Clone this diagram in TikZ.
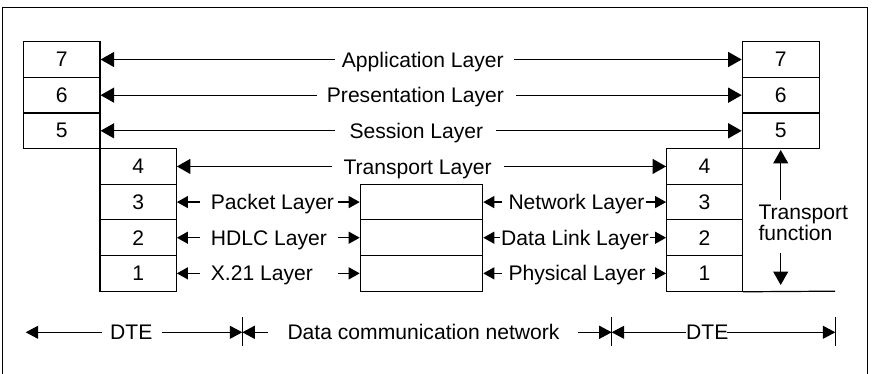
\documentclass[tikz,border=0pt]{standalone}
\usepackage{fontspec}
\setmainfont{Liberation Sans}
\usetikzlibrary{arrows.meta}
\begin{document}
\begin{tikzpicture}[x=1pt,y=-1pt,
  every node/.style={font=\fontsize{21.1}{21.1}\selectfont},
  box/.style={draw, rectangle, inner sep=0pt, minimum height=35.64pt, line width=1.2pt},
  ln/.style={line width=1.2pt},
  lbl/.style={anchor=base west, inner sep=0pt},
  bigL/.style={ln, {Triangle[length=13.5pt,width=15pt]}-},
  bigR/.style={ln, -{Triangle[length=13.5pt,width=15pt]}},
  smL/.style={ln, {Triangle[length=11pt,width=12pt]}-},
  smR/.style={ln, -{Triangle[length=11pt,width=12pt]}},
  dteL/.style={ln, {Triangle[length=12.5pt,width=13pt]}-},
  dteR/.style={ln, -{Triangle[length=12.5pt,width=13pt]}}
]
\useasboundingbox (0,0) rectangle (873,374);
% frame
\draw[ln] (2.7,374) -- (2.7,7.3) -- (867.7,7.3) -- (867.7,374);

% left stacks
\node[box, minimum width=76.7pt] (L7) at (61.65,59.52) {7};
\node[box, minimum width=76.7pt] (L6) at (61.65,95.16) {6};
\node[box, minimum width=76.7pt] (L5) at (61.65,130.8) {5};
\node[box, minimum width=76.3pt] (L4) at (138.15,166.44) {4};
\node[box, minimum width=76.3pt] (L3) at (138.15,202.08) {3};
\node[box, minimum width=76.3pt] (L2) at (138.15,237.72) {2};
\node[box, minimum width=76.3pt] (L1) at (138.15,273.36) {1};
% middle
\node[box, minimum width=122.4pt] (M3) at (421.5,202.08) {};
\node[box, minimum width=122.4pt] (M2) at (421.5,237.72) {};
\node[box, minimum width=122.4pt] (M1) at (421.5,273.36) {};
% right stacks
\node[box, minimum width=75.6pt] (R4) at (704.5,166.44) {4};
\node[box, minimum width=75.6pt] (R3) at (704.5,202.08) {3};
\node[box, minimum width=75.6pt] (R2) at (704.5,237.72) {2};
\node[box, minimum width=75.6pt] (R1) at (704.5,273.36) {1};
\node[box, minimum width=77pt] (R7) at (780.8,59.52) {7};
\node[box, minimum width=77pt] (R6) at (780.8,95.16) {6};
\node[box, minimum width=77pt] (R5) at (780.8,130.8) {5};
\coordinate (bx) at (835,291.18);
\draw[ln] (R1.south east) -- (bx);

% upper layers
\node[lbl] (t7) at (341.7,67.1) {Application Layer};
\coordinate (a7l) at (335,59.52); \coordinate (a7r) at (514.3,59.52);
\draw[bigL] (L7.east) -- (a7l); \draw[bigR] (a7r) -- (R7.west);

\node[lbl] (t6) at (326.7,102.76) {Presentation Layer};
\coordinate (a6l) at (317.3,95.16); \coordinate (a6r) at (516,95.16);
\draw[bigL] (L6.east) -- (a6l); \draw[bigR] (a6r) -- (R6.west);

\node[lbl] (t5) at (349.3,138.4) {Session Layer};
\coordinate (a5l) at (335,130.8); \coordinate (a5r) at (496,130.8);
\draw[bigL] (L5.east) -- (a5l); \draw[bigR] (a5r) -- (R5.west);

\node[lbl] (t4) at (343.3,174.04) {Transport Layer};
\coordinate (a4l) at (331.7,166.44); \coordinate (a4r) at (504,166.44);
\draw[bigL] (L4.east) -- (a4l); \draw[bigR] (a4r) -- (R4.west);

% left lower layers
\node[lbl] (p3) at (210.7,209.68) {Packet Layer};
\coordinate (p3l) at (200,202.08); \coordinate (p3r) at (338.3,202.08);
\draw[smL] (L3.east) -- (p3l); \draw[smR] (p3r) -- (M3.west);

\node[lbl] (p2) at (210.7,245.32) {HDLC Layer};
\coordinate (p2l) at (200,237.72); \coordinate (p2r) at (338.3,237.72);
\draw[smL] (L2.east) -- (p2l); \draw[smR] (p2r) -- (M2.west);

\node[lbl] (p1) at (210.7,280.96) {X.21 Layer};
\coordinate (p1l) at (200,273.36); \coordinate (p1r) at (338.3,273.36);
\draw[smL] (L1.east) -- (p1l); \draw[smR] (p1r) -- (M1.west);

% right lower layers
\node[lbl] (n3) at (508.3,209.68) {Network Layer};
\coordinate (n3l) at (502.3,202.08); \coordinate (n3r) at (645.7,202.08);
\draw[smL] (M3.east) -- (n3l); \draw[smR] (n3r) -- (R3.west);

\node[lbl] (n2) at (501,245.32) {Data Link Layer};
\coordinate (n2l) at (500,237.72); \coordinate (n2r) at (650,237.72);
\draw[smL] (M2.east) -- (n2l); \draw[smR] (n2r) -- (R2.west);

\node[lbl] (n1) at (508.3,280.96) {Physical Layer};
\coordinate (n1l) at (502,273.36); \coordinate (n1r) at (651.7,273.36);
\draw[smL] (M1.east) -- (n1l); \draw[smR] (n1r) -- (R1.west);

% transport function
\node[anchor=north west, align=left, inner sep=0pt, font=\fontsize{21.1}{20.5}\selectfont] (tf) at (758.3,205) {Transport\\function};
\coordinate (tfu0) at (780.7,200); \coordinate (tfu1) at (780.7,150);
\coordinate (tfd0) at (780.7,253.3); \coordinate (tfd1) at (780.7,285);
\draw[bigR] (tfu0) -- (tfu1);
\draw[bigR] (tfd0) -- (tfd1);

% bottom extents
\node[lbl] (dte1) at (110,339.9) {DTE};
\node[lbl] (dcn) at (287.3,339.9) {Data communication network};
\node[lbl] (dte2) at (686,339.9) {DTE};
\coordinate (e0) at (25.7,332.3);
\coordinate (e1) at (101.7,332.3);
\coordinate (e2) at (161.7,332.3);
\coordinate (k1) at (242.3,332.3);
\coordinate (e3) at (268.3,332.3);
\coordinate (e4) at (578.3,332.3);
\coordinate (k2) at (611.7,332.3);
\coordinate (e5) at (686,332.3);
\coordinate (e6) at (726.7,332.3);
\coordinate (k3) at (835.3,332.3);
\draw[dteL] (e0) -- (e1);
\draw[dteR] (e2) -- (k1);
\draw[dteL] (k1) -- (e3);
\draw[dteR] (e4) -- (k2);
\draw[dteL] (k2) -- (e5);
\draw[dteR] (e6) -- (k3);
\draw[ln] ([yshift=-14pt]k1) -- ([yshift=15.4pt]k1);
\draw[ln] ([yshift=-14pt]k2) -- ([yshift=15.4pt]k2);
\draw[ln] ([yshift=-14pt]k3) -- ([yshift=15.4pt]k3);
\end{tikzpicture}
\end{document}
